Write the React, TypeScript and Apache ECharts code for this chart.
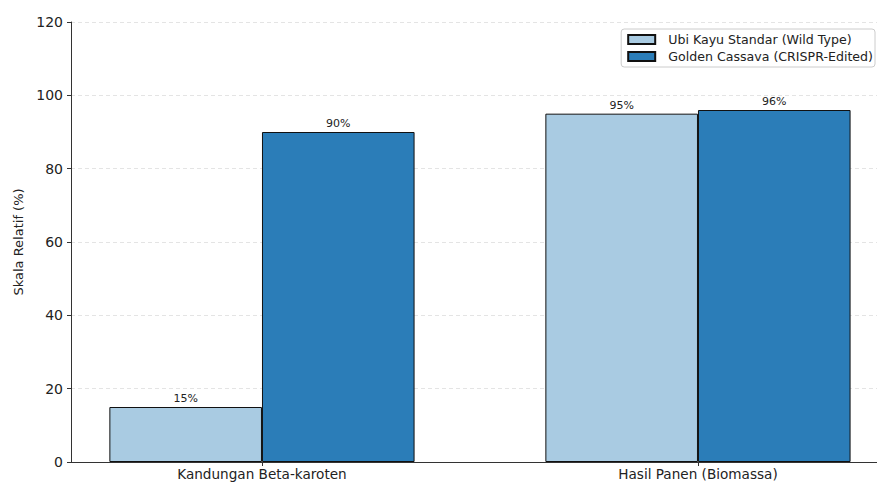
import React, { useEffect, useRef } from "react";
import * as echarts from "echarts";

const categories = ["Kandungan Beta-karoten", "Hasil Panen (Biomassa)"];
const seriesNames = ["Ubi Kayu Standar (Wild Type)", "Golden Cassava (CRISPR-Edited)"];
const wildType = [15, 95];
const goldenCassava = [90, 96];
const yTicks = [0, 20, 40, 60, 80, 100, 120];

const BAR_W = 0.35;
const X_MIN = -0.438;
const X_MAX = 1.4106;

export default function App() {
  const ref = useRef<HTMLDivElement>(null);
  useEffect(() => {
    if (!ref.current) return;
    const chart = echarts.init(ref.current, null, { renderer: "svg" });
    const font = "DejaVu Sans";
    const pxPerUnit = (877 - 71) / (X_MAX - X_MIN);
    const barPx = BAR_W * pxPerUnit;
    const mk = (vals: number[], offset: number) =>
      vals.map((v, i) => [i + offset, v]);
    const labelCfg = {
      show: true,
      position: "top",
      distance: 3,
      color: "#222",
      fontFamily: font,
      fontSize: 11,
      formatter: (p: any) => `${p.value[1]}%`,
    };
    chart.setOption({
      animation: false,
      backgroundColor: "#fff",
      textStyle: { fontFamily: font },
      grid: { left: 71, right: 0, top: 22, bottom: 22, containLabel: false },
      legend: {
        orient: "vertical",
        right: 2,
        top: 29,
        padding: [4, 2, 4, 6],
        itemGap: 4,
        itemWidth: 27,
        itemHeight: 9,
        borderColor: "#cccccc",
        borderWidth: 1,
        borderRadius: 3,
        icon: "rect",
        textStyle: { fontFamily: font, fontSize: 12.6, color: "#222", padding: [0, 0, 0, 8] },
        data: seriesNames,
      },
      xAxis: {
        type: "value",
        min: X_MIN,
        max: X_MAX,
        splitLine: { show: false },
        axisLine: { show: true, onZero: false, lineStyle: { color: "#333", width: 1 } },
        axisTick: { show: true, customValues: [0, 1], length: 4, lineStyle: { color: "#333" } },
        axisLabel: {
          customValues: [0, 1],
          formatter: (v: number) => categories[Math.round(v)] ?? "",
          color: "#222",
          fontSize: 13.6,
          fontFamily: font,
          margin: 5,
        },
      },
      yAxis: {
        type: "value",
        min: 0,
        max: 120,
        interval: 20,
        name: "Skala Relatif (%)",
        nameLocation: "middle",
        nameGap: 45,
        nameTextStyle: { fontSize: 13, color: "#222", fontFamily: font },
        axisLine: { show: true, onZero: false, lineStyle: { color: "#333", width: 1 } },
        axisTick: { show: true, length: 4, lineStyle: { color: "#333" } },
        axisLabel: {
          color: "#222",
          fontSize: 14,
          fontFamily: font,
          margin: 8,
          formatter: (v: number) => (yTicks.includes(v) ? String(v) : ""),
        },
        splitLine: { show: true, lineStyle: { color: "#dddddd", type: [4, 3], width: 0.8 } },
      },
      series: [
        {
          name: seriesNames[0],
          type: "bar",
          data: mk(wildType, -BAR_W / 2),
          barWidth: barPx,
          barGap: "-100%",
          itemStyle: { color: "#a9cbe2", borderColor: "#111", borderWidth: 1 },
          label: labelCfg,
        },
        {
          name: seriesNames[1],
          type: "bar",
          data: mk(goldenCassava, BAR_W / 2),
          barWidth: barPx,
          barGap: "-100%",
          itemStyle: { color: "#2b7db8", borderColor: "#111", borderWidth: 1 },
          label: labelCfg,
        },
      ],
    });
    return () => chart.dispose();
  }, []);
  return (
    <div
      ref={ref}
      style={{ width: 877, height: 484, position: "fixed", left: 0, top: 0 }}
    />
  );
}
